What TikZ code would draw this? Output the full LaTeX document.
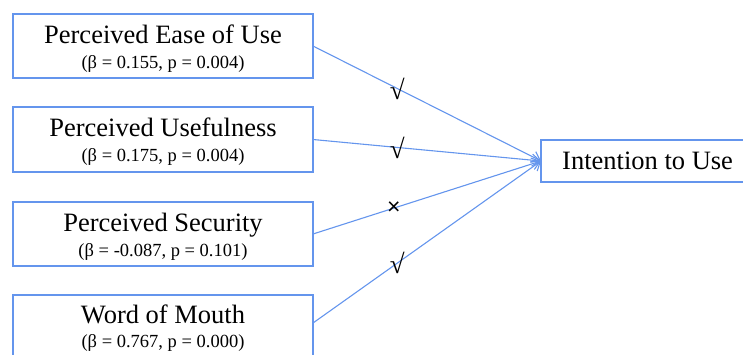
\documentclass[tikz,border=0pt]{standalone}
\usepackage{fontspec}
\setmainfont{Liberation Serif}
\newfontfamily\marksans{Liberation Sans}
\usetikzlibrary{arrows.meta}
\definecolor{linkblue}{HTML}{6495ED}
\definecolor{boxblue}{HTML}{6495ED}
\begin{document}
\begin{tikzpicture}[x=1pt,y=-1pt,
  factor/.style={draw=boxblue, line width=1.2pt, minimum width=300pt, minimum height=64pt, inner sep=0pt, outer sep=0pt},
  target/.style={draw=boxblue, line width=1.2pt, minimum width=213pt, minimum height=42pt, inner sep=0pt, outer sep=0pt, anchor=west},
  title/.style={font=\fontsize{26.5}{30}\selectfont, anchor=base, inner sep=0pt},
  stat/.style={font=\fontsize{18.5}{22}\selectfont, anchor=base, inner sep=0pt},
  link/.style={draw=linkblue, line width=1.1pt, -{Straight Barb[length=8pt,width=12pt]}},
  okmark/.style={font=\fontsize{27}{30}\selectfont, inner sep=0pt, text=black},
  nomark/.style={font=\marksans\fontsize{23}{26}\selectfont, inner sep=0pt, text=black}
]
\clip (0,0) rectangle (743,354);

\node[factor] (b1) at (163,46) {};
\node[title] (t1) at ([yshift=3pt]b1.center) {Perceived Ease of Use};
\node[stat] (s1) at ([yshift=-22pt]b1.center) {(β = 0.155, p = 0.004)};

\node[factor, minimum height=65pt] (b2) at (163,139.5) {};
\node[title] (t2) at ([yshift=3pt]b2.center) {Perceived Usefulness};
\node[stat] (s2) at ([yshift=-22pt]b2.center) {(β = 0.175, p = 0.004)};

\node[factor] (b3) at (163,234) {};
\node[title] (t3) at ([yshift=3pt]b3.center) {Perceived Security};
\node[stat] (s3) at ([yshift=-22pt]b3.center) {(β = -0.087, p = 0.101)};

\node[factor] (b4) at (163,327) {};
\node[title] (t4) at ([yshift=4pt]b4.center) {Word of Mouth};
\node[stat] (s4) at ([yshift=-20pt]b4.center) {(β = 0.767, p = 0.000)};

\node[target] (iu) at (541,161) {};
\node[title, anchor=base west] (iut) at (562,169) {Intention to Use};

\draw[link] (b1.east) -- node[okmark, pos=0.37] (m1) {√} (iu.west);
\draw[link] (b2.east) -- node[okmark, pos=0.37] (m2) {√} (iu.west);
\draw[link] (b3.east) -- node[nomark, pos=0.355] (m3) {×} (iu.west);
\draw[link] ([yshift=4pt]b4.east) -- node[okmark, pos=0.37] (m4) {√} (iu.west);
\end{tikzpicture}
\end{document}
